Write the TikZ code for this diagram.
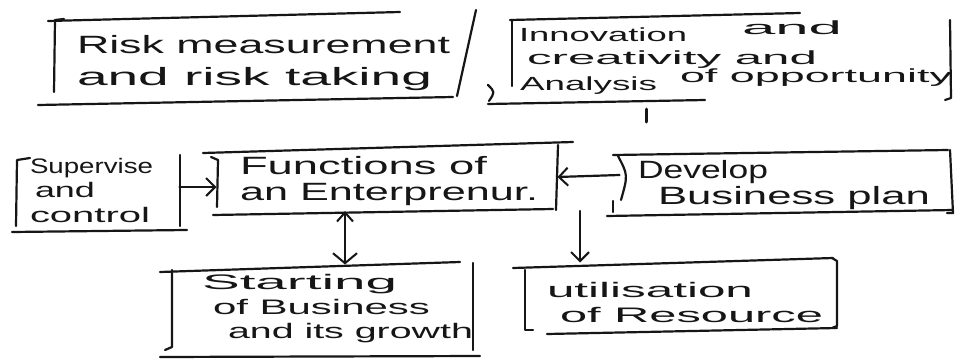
\documentclass[tikz,border=0pt]{standalone}
\usepackage{graphicx}
\usepackage{fontspec}
\setmainfont{Liberation Sans}
\usetikzlibrary{arrows.meta}

\definecolor{inkc}{HTML}{161616}

% one line of hand lettering, stretched to a given width in pt
\newcommand\handw[2]{\resizebox{#1pt}{\height}{#2}}

\tikzset{
  ink/.style={draw=inkc, line width=2.2pt, line cap=round, line join=round},
  frame/.style={inner sep=0pt, outer sep=0pt, draw=none},
  hand/.style={anchor=base west, inner sep=0pt, outer sep=0pt, text=inkc,
               font=\fontsize{25}{28}\selectfont},
  small/.style={hand, font=\fontsize{21}{24}\selectfont},
  tiny/.style={hand, font=\fontsize{19}{22}\selectfont},
  arr/.style={ink, -{Straight Barb[length=9pt,width=18pt,line width=2pt]}},
  darr/.style={ink, {Straight Barb[length=9pt,width=16pt,line width=2pt]}-{Straight Barb[length=10pt,width=24pt,line width=2pt]}},
}

\begin{document}
\begin{tikzpicture}[x=1pt, y=-1pt]
  \useasboundingbox[fill=white] (0,0) rectangle (966,359);

  % ---- box frames (used as connector anchors)
  \node[frame, minimum width=412pt, minimum height=86pt] (risk)  at (259,58)  {};
  \node[frame, minimum width=438pt, minimum height=83pt] (innov) at (731,60)  {};
  \node[frame, minimum width=163pt, minimum height=72pt] (sup)   at (98,194)  {};
  \node[frame, minimum width=341pt, minimum height=64pt] (fun)   at (387,179) {};
  \node[frame, minimum width=333pt, minimum height=60pt] (dev)   at (786,182) {};
  \node[frame, minimum width=301pt, minimum height=87pt] (start) at (322,308) {};
  \node[frame, minimum width=312pt, minimum height=67pt] (util)  at (681,296) {};

  % ---- risk measurement box
  \draw[ink] (48,21) -- (400,12);
  \draw[ink] (64,19) -- (55,20) -- (54,92);
  \draw[ink] (38,105) -- (453,97);
  \draw[ink] (476,10) -- (457,96);
  \node[hand] (risk1) at (77,53) {\handw{373}{Risk measurement}};
  \node[hand] (risk2) at (77,85) {\handw{355}{and risk taking}};

  % ---- innovation box
  \draw[ink] (510,20) -- (800,13);
  \draw[ink] (512,20) -- (512,86);
  \draw[ink] (488,85) .. controls (495,92) .. (489,101);
  \draw[ink] (488,104) -- (705,100);
  \draw[ink] (950,20) -- (951,98) -- (945,100);
  \draw[ink, line width=3pt] (646,109) -- (646,122);
  \node[tiny] (inn1a) at (519,41) {\handw{168}{Innovation}};
  \node[tiny] (inn1b) at (742,34) {\handw{100}{and}};
  \node[tiny] (inn2)  at (527,64) {\handw{290}{creativity and}};
  \node[tiny] (inn3a) at (520,90) {\handw{137}{Analysis}};
  \node[tiny] (inn3b) at (680,82) {\handw{272}{of opportunity}};

  % ---- supervise box
  \draw[ink] (30,158) -- (17,160) -- (16,226);
  \draw[ink] (180,155) -- (180,226);
  \draw[ink] (12,232) -- (187,230);
  \node[small] (sup1) at (30,173) {\handw{123}{Supervise}};
  \node[small] (sup2) at (35,197) {\handw{60}{and}};
  \node[small] (sup3) at (30,222) {\handw{120}{control}};

  % ---- functions box
  \draw[ink] (203,153) -- (573,142);
  \draw[ink] (211,157) -- (218,160) -- (217,207);
  \draw[ink] (558,145) -- (556,210);
  \draw[ink] (213,215) -- (553,209);
  \node[hand] (fun1) at (240,174) {\handw{247}{Functions of}};
  \node[hand] (fun2) at (240,200) {\handw{298}{an Enterprenur.}};

  % ---- develop box
  \draw[ink] (613,155) -- (948,150);
  \draw[ink] (618,156) .. controls (628,175) .. (621,200);
  \draw[ink] (613,201) -- (613,212);
  \draw[ink] (950,150) -- (953,213) -- (947,213);
  \draw[ink] (607,216) -- (953,210);
  \node[hand] (dev1) at (638,178) {\handw{130}{Develop}};
  \node[hand] (dev2) at (658,204) {\handw{272}{Business plan}};

  % ---- starting box
  \draw[ink] (160,272) -- (460,262);
  \draw[ink] (172,270) -- (172,347) -- (165,350);
  \draw[ink] (473,263) -- (473,350);
  \draw[ink] (160,357) -- (480,356);
  \node[small] (st1) at (202,289) {\handw{195}{Starting}};
  \node[small] (st2) at (213,314) {\handw{217}{of Business}};
  \node[small] (st3) at (228,338) {\handw{245}{and its growth}};

  % ---- utilisation box
  \draw[ink] (513,268) -- (833,258);
  \draw[ink] (525,270) -- (525,330) -- (533,330);
  \draw[ink] (832,258) -- (837,261) -- (837,326) -- (832,328);
  \draw[ink] (547,334) -- (837,328);
  \node[small] (ut1) at (547,297) {\handw{206}{utilisation}};
  \node[small] (ut2) at (560,322) {\handw{263}{of Resource}};

  % ---- connectors
  \draw[arr]  ([yshift=7pt]sup.east) -- ([yshift=-8pt]fun.west);
  \draw[arr]  ([yshift=7pt]dev.west) -- ([yshift=2pt]fun.east);
  \draw[darr] ([xshift=-42pt]fun.south) -- ([xshift=23pt]start.north);
  \draw[arr]  ([xshift=193pt]fun.south) -- ([xshift=-101pt]util.north);
\end{tikzpicture}
\end{document}
